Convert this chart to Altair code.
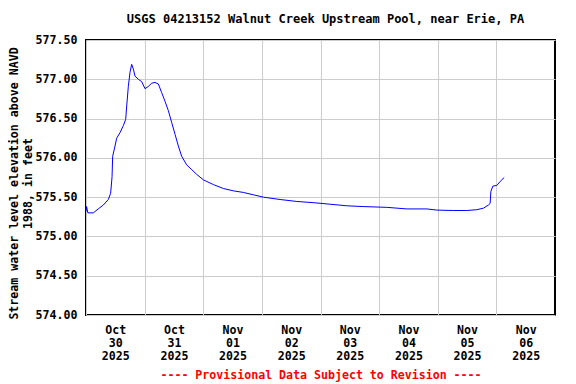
import altair as alt
import pandas as pd

times = [
    "2025-10-30T00:00", "2025-10-30T00:15", "2025-10-30T00:45", "2025-10-30T03:00",
    "2025-10-30T05:00", "2025-10-30T07:06", "2025-10-30T09:08", "2025-10-30T10:06",
    "2025-10-30T10:40", "2025-10-30T10:55", "2025-10-30T11:53", "2025-10-30T12:33",
    "2025-10-30T13:55", "2025-10-30T15:17", "2025-10-30T16:15", "2025-10-30T16:40",
    "2025-10-30T17:20", "2025-10-30T18:01", "2025-10-30T18:42", "2025-10-30T19:23",
    "2025-10-30T20:04", "2025-10-30T21:26", "2025-10-30T22:48", "2025-10-31T00:10",
    "2025-10-31T01:32", "2025-10-31T02:54", "2025-10-31T04:15", "2025-10-31T05:37",
    "2025-10-31T06:59", "2025-10-31T08:21", "2025-10-31T09:43", "2025-10-31T11:05",
    "2025-10-31T12:27", "2025-10-31T13:49", "2025-10-31T15:10", "2025-10-31T17:14",
    "2025-10-31T19:17", "2025-10-31T21:19", "2025-11-01T00:03", "2025-11-01T04:08",
    "2025-11-01T08:14", "2025-11-01T12:20", "2025-11-01T16:25", "2025-11-01T20:31",
    "2025-11-02T00:37", "2025-11-02T07:27", "2025-11-02T14:17", "2025-11-02T20:58",
    "2025-11-03T03:56", "2025-11-03T10:46", "2025-11-03T17:27", "2025-11-04T03:09",
    "2025-11-04T11:21", "2025-11-04T19:32", "2025-11-04T23:38", "2025-11-05T06:19",
    "2025-11-05T11:55", "2025-11-05T16:00", "2025-11-05T18:43", "2025-11-05T20:46",
    "2025-11-05T21:27", "2025-11-05T21:44", "2025-11-05T22:33", "2025-11-06T00:13",
    "2025-11-06T01:34", "2025-11-06T03:12",
]
levels = [
    575.32, 575.38, 575.30, 575.30,
    575.35, 575.40, 575.47, 575.55,
    575.76, 576.02, 576.15, 576.25,
    576.32, 576.41, 576.49, 576.66,
    576.91, 577.09, 577.19, 577.13,
    577.04, 577.00, 576.97, 576.88,
    576.91, 576.95, 576.96, 576.94,
    576.83, 576.72, 576.60, 576.45,
    576.30, 576.15, 576.02, 575.91,
    575.85, 575.79, 575.72, 575.66,
    575.61, 575.58, 575.56, 575.53,
    575.50, 575.47, 575.445, 575.43,
    575.41, 575.39, 575.38, 575.37,
    575.35, 575.35, 575.335, 575.33,
    575.33, 575.34, 575.36, 575.40,
    575.42, 575.57, 575.64, 575.65,
    575.70, 575.75,
]
day_ticks = [
    "2025-10-30", "2025-10-31", "2025-11-01", "2025-11-02",
    "2025-11-03", "2025-11-04", "2025-11-05", "2025-11-06",
]
y_ticks = [574.0, 574.5, 575.0, 575.5, 576.0, 576.5, 577.0, 577.5]

df = pd.DataFrame({"time": [t + ":00Z" for t in times], "level": levels})

FONT = "DejaVu Sans Mono"
FS = 11.6

x_enc = alt.X(
    "time:T",
    scale=alt.Scale(type="utc", domain=["2025-10-30T00:00:00Z", "2025-11-07T00:00:00Z"]),
    axis=alt.Axis(
        values=[d + "T00:00:00Z" for d in day_ticks],
        labelExpr="[utcFormat(datum.value, '%b'), utcFormat(datum.value, '%d'), utcFormat(datum.value, '%Y')]",
        labelOffset=29.3,
        labelFlush=False,
        labelBound=False,
        labelPadding=9,
        labelLineHeight=13,
        ticks=False,
        domain=False,
        grid=True,
        title="---- Provisional Data Subject to Revision ----",
        titleColor="#ff0000",
        titlePadding=8,
    ),
)
y_enc = alt.Y(
    "level:Q",
    scale=alt.Scale(domain=[574.0, 577.5], nice=False, zero=False),
    axis=alt.Axis(
        values=y_ticks,
        format=".2f",
        ticks=False,
        domain=False,
        grid=True,
        labelPadding=9,
        title=["Stream water level elevation above NAVD", "1988, in feet"],
        titleX=-72,
        titleY=143,
        titleAngle=-90,
        titleLineHeight=14,
        titleBaseline="middle",
    ),
)

chart = (
    alt.Chart(df)
    .mark_line(color="#0000ff", strokeWidth=1)
    .encode(x=x_enc, y=y_enc)
    .properties(
        width=469,
        height=275,
        title=alt.TitleParams(
            "USGS 04213152 Walnut Creek Upstream Pool, near Erie, PA",
            font=FONT,
            fontSize=12,
            fontWeight="bold",
            offset=8,
            dx=5,
        ),
        autosize=alt.AutoSizeParams(type="none"),
        padding={"left": 78, "top": 32, "right": 13, "bottom": 68},
        background="white",
    )
    .configure_view(stroke="black", strokeWidth=2)
    .configure_axis(
        labelFont=FONT,
        labelFontSize=FS,
        labelFontWeight="bold",
        labelColor="black",
        titleFont=FONT,
        titleFontSize=FS,
        titleFontWeight="bold",
        titleColor="black",
        gridColor="#cccccc",
        gridWidth=1,
    )
)

chart.save("out.html", embed_options={"renderer": "svg", "actions": False})
